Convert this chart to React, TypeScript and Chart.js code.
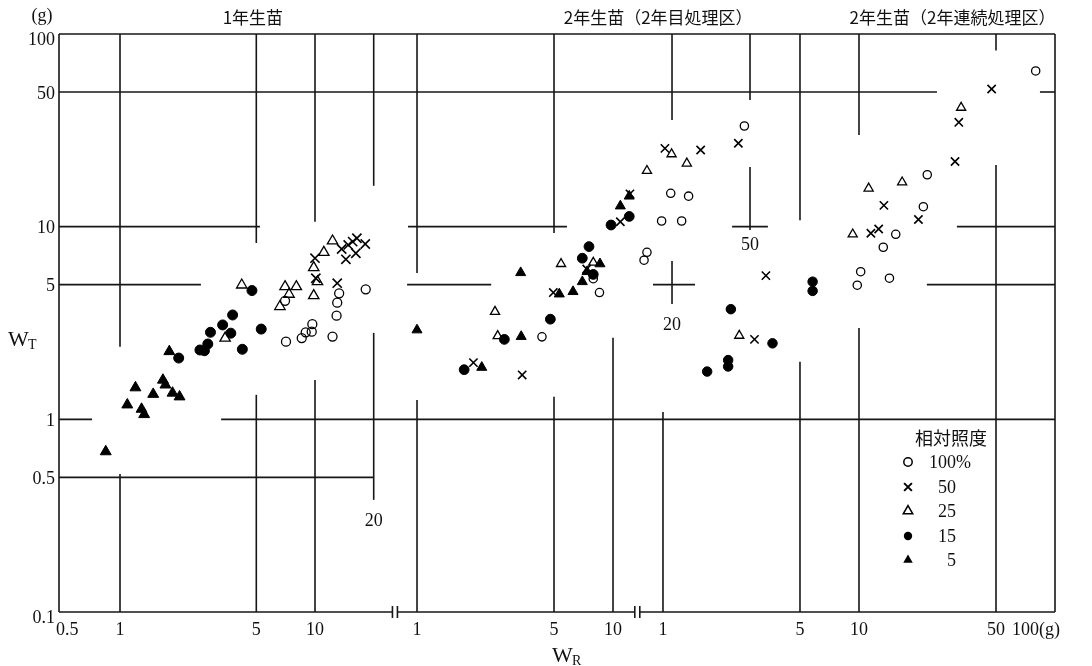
import React, { useEffect, useRef } from 'react';
import { Chart, registerables } from 'chart.js';

Chart.register(...registerables);

type Pt = [number, number];

// ---- data: [W_R (g), W_T (g)] ----
// 1年生苗
const p1_100: Pt[] = [[7.10, 2.53], [8.55, 2.64], [8.96, 2.83], [9.62, 2.85], [9.69, 3.12], [12.3, 2.69], [12.9, 3.45], [13.0, 4.03], [13.3, 4.51], [7.02, 4.12], [18.2, 4.73]];
const p1_50: Pt[] = [[10.0, 6.86], [10.1, 5.40], [13.0, 5.09], [13.7, 7.66], [14.4, 6.77], [14.8, 8.04], [15.6, 8.36], [16.2, 7.28], [16.4, 8.71], [18.1, 8.13]];
const p1_25: Pt[] = [[4.21, 4.98], [3.46, 2.64], [6.61, 3.85], [7.02, 4.88], [7.36, 4.46], [8.02, 4.88], [9.85, 6.13], [9.85, 4.39], [10.3, 5.18], [11.1, 7.36], [12.3, 8.43]];
const p1_15: Pt[] = [[2.0, 2.08], [2.57, 2.29], [2.71, 2.27], [2.82, 2.46], [2.91, 2.83], [3.36, 3.09], [3.70, 2.80], [3.78, 3.48], [4.24, 2.31], [4.75, 4.66], [5.30, 2.94]];
const p1_5: Pt[] = [[0.845, 0.68], [1.09, 1.19], [1.20, 1.46], [1.29, 1.13], [1.33, 1.06], [1.48, 1.35], [1.66, 1.60], [1.71, 1.51], [1.86, 1.37], [2.02, 1.31], [1.79, 2.25]];

// 2年生苗（2年目処理区）
const p2_100: Pt[] = [[4.34, 2.68], [8.53, 4.55], [7.93, 5.37], [14.4, 6.70], [14.9, 7.36], [17.7, 10.7], [22.4, 10.7], [19.7, 14.9], [24.3, 14.4], [46.8, 33.3]];
const p2_50: Pt[] = [[1.94, 1.97], [3.44, 1.70], [4.96, 4.55], [7.34, 6.03], [10.9, 10.6], [12.2, 14.8], [18.4, 25.5], [28.0, 25.0], [43.6, 27.1]];
const p2_25: Pt[] = [[2.50, 3.62], [2.58, 2.71], [5.43, 6.41], [7.93, 6.51], [14.9, 19.5], [19.9, 23.8], [23.8, 21.3]];
const p2_15: Pt[] = [[1.74, 1.81], [2.79, 2.60], [4.79, 3.31], [7.54, 7.88], [6.97, 6.86], [7.93, 5.65], [9.77, 10.2], [12.1, 11.3]];
const p2_5: Pt[] = [[1.0, 2.91], [3.38, 5.77], [2.14, 1.86], [3.40, 2.69], [5.32, 4.47], [6.25, 4.60], [6.97, 5.18], [7.37, 5.84], [8.58, 6.41], [10.9, 12.8], [12.1, 14.4]];

// 2年生苗（2年連続処理区）
const p3_100: Pt[] = [[79.7, 64.3], [22.3, 18.6], [21.3, 12.7], [15.4, 9.13], [13.3, 7.82], [14.3, 5.40], [10.2, 5.84], [9.80, 4.97]];
const p3_50: Pt[] = [[47.5, 51.8], [32.3, 34.8], [30.9, 21.8], [20.1, 10.9], [13.4, 12.9], [12.6, 9.73], [11.5, 9.24], [3.35, 5.57], [2.93, 2.60]];
const p3_25: Pt[] = [[33.2, 41.5], [16.6, 17.0], [11.2, 15.8], [9.29, 9.13], [2.45, 2.72]];
const p3_15: Pt[] = [[5.80, 5.18], [5.80, 4.64], [2.22, 3.73], [3.62, 2.48], [2.15, 2.03], [2.15, 1.88], [1.68, 1.77]];

// ---- labels / ticks ----
const panelTitles = ['1年生苗', '2年生苗（2年目処理区）', '2年生苗（2年連続処理区）'];
const titleAnchors: [string, number][] = [['x1', 4.8], ['x2', 17], ['x3', 30]];
const legendTitle = '相対照度';
const lightLevels = ['100%', '50', '25', '15', '5'];
const xTicks1 = [0.5, 1, 5, 10];
const xTicks2 = [1, 5, 10];
const xTicks3 = [1, 5, 10, 50, 100];
const yTicks = [100, 50, 10, 5, 1, 0.5, 0.1];
// in-plot scale labels: [axis, x, y, text]
const innerLabels: [string, number, number, string][] = [['x1', 20, 0.297, '20'], ['x2', 20, 3.09, '20'], ['x2', 50, 8.04, '50']];

// axis ranges (three log segments sharing the width)
const X1_MIN = 0.4866, X1_MAX = 62350;
const X2_MIN = 0.014908, X2_MAX = 1799;
const X3_MIN = 0.000829, X3_MAX = 100;
const Y_MIN = 0.1, Y_MAX = 100;
const BREAK1 = 25.7; // on x1
const BREAK2 = 13.3; // on x2

// partial grid lines
// vertical: [axis, x, yFrom, yTo]
const vSegments: [string, number, number, number][] = [
  ['x1', 1, 100, 2.38], ['x1', 1, 0.52, 0.1],
  ['x1', 5, 100, 8.23], ['x1', 5, 1.34, 0.1],
  ['x1', 10, 100, 10.6], ['x1', 10, 1.6, 0.1],
  ['x1', 20, 100, 16.3], ['x1', 20, 2.81, 0.382],
  ['x2', 1, 100, 5.75], ['x2', 1, 1.26, 0.1],
  ['x2', 5, 100, 9.28], ['x2', 5, 1.31, 0.1],
  ['x2', 10, 2.65, 0.1],
  ['x2', 20, 100, 35.8], ['x2', 20, 6.64, 3.97],
  ['x2', 50, 100, 45.4], ['x2', 50, 20.4, 9.6],
  ['x3', 1, 1.09, 0.1],
  ['x3', 5, 100, 10.8], ['x3', 5, 1.99, 0.1],
  ['x3', 10, 100, 29.9], ['x3', 10, 2.98, 0.1],
  ['x3', 50, 100, 82], ['x3', 50, 20.9, 0.1],
];
// horizontal: [y, axis, xFrom|null, xTo|null]  (null = plot edge)
const hSegments: [number, string, number | null, number | null][] = [
  [50, 'x3', null, 25.0], [50, 'x3', 83.8, null],
  [10, 'x1', null, 5.22], [10, 'x2', 0.90, 5.82], [10, 'x2', 40.5, 61.7], [10, 'x3', 31.6, null],
  [5, 'x1', null, 2.60], [5, 'x2', 0.89, 2.39], [5, 'x2', 16.0, 26.2], [5, 'x3', 22.2, null],
  [1, 'x1', null, 0.719], [1, 'x1', 3.30, null],
  [0.5, 'x1', null, 20],
];

const LINE = '#161616';
const INK = '#111';
const NUM_FONT = '"Liberation Serif", "DejaVu Serif", serif';
const JP_FONT = '"Noto Sans CJK JP", "Noto Sans", sans-serif';

type Style = { pointStyle: string; radius: number; fill: boolean; bw: number };
const styles: Style[] = [
  { pointStyle: 'circle', radius: 4.5, fill: false, bw: 1.3 },
  { pointStyle: 'crossRot', radius: 6.5, fill: false, bw: 1.6 },
  { pointStyle: 'triangle', radius: 6, fill: false, bw: 1.3 },
  { pointStyle: 'circle', radius: 5, fill: true, bw: 1 },
  { pointStyle: 'triangle', radius: 6.3, fill: true, bw: 1 },
];

function makeSet(label: string, data: Pt[], axis: string, si: number, scale = 1) {
  const s = styles[si];
  return {
    label,
    data: data.map(([x, y]) => ({ x, y })),
    xAxisID: axis,
    yAxisID: 'y',
    pointStyle: s.pointStyle,
    pointRadius: s.radius * scale,
    pointHoverRadius: s.radius * scale,
    pointBorderWidth: s.bw,
    borderColor: '#000',
    pointBorderColor: '#000',
    pointBackgroundColor: s.fill ? '#000' : 'rgba(0,0,0,0)',
    backgroundColor: s.fill ? '#000' : 'rgba(0,0,0,0)',
    showLine: false,
  };
}

function markerPath(ctx: CanvasRenderingContext2D, style: string, x: number, y: number, r: number) {
  ctx.beginPath();
  if (style === 'circle') {
    ctx.arc(x, y, r, 0, Math.PI * 2);
  } else if (style === 'triangle') {
    for (let i = 0; i < 3; i++) {
      const a = (i * 2 * Math.PI) / 3;
      const px = x + Math.sin(a) * r;
      const py = y - Math.cos(a) * r;
      if (i === 0) ctx.moveTo(px, py); else ctx.lineTo(px, py);
    }
    ctx.closePath();
  } else {
    const d = r * Math.SQRT1_2;
    ctx.moveTo(x - d, y - d); ctx.lineTo(x + d, y + d);
    ctx.moveTo(x + d, y - d); ctx.lineTo(x - d, y + d);
  }
}

const decorPlugin = {
  id: 'decor',
  beforeDatasetsDraw(chart: any) {
    const ctx: CanvasRenderingContext2D = chart.ctx;
    const { left, right, top, bottom } = chart.chartArea;
    const ys = chart.scales.y;
    const seg = (x0: number, y0: number, x1: number, y1: number) => {
      ctx.beginPath(); ctx.moveTo(x0, y0); ctx.lineTo(x1, y1); ctx.stroke();
    };
    ctx.save();
    ctx.strokeStyle = LINE;
    ctx.lineWidth = 1.6;
    // frame: left, top, right
    seg(left, top, left, bottom);
    seg(left, top, right, top);
    seg(right, top, right, bottom);
    // bottom with break marks
    const b1 = chart.scales.x1.getPixelForValue(BREAK1);
    const b2 = chart.scales.x2.getPixelForValue(BREAK2);
    seg(left, bottom, b1 - 2.5, bottom);
    seg(b1 + 2.5, bottom, b2 - 2.5, bottom);
    seg(b2 + 2.5, bottom, right, bottom);
    [b1, b2].forEach((b) => {
      seg(b - 2.5, bottom - 6, b - 2.5, bottom + 6);
      seg(b + 2.5, bottom - 6, b + 2.5, bottom + 6);
    });
    // partial grid
    vSegments.forEach(([ax, xv, y0, y1]) => {
      const px = chart.scales[ax].getPixelForValue(xv);
      seg(px, ys.getPixelForValue(y0), px, ys.getPixelForValue(y1));
    });
    hSegments.forEach(([yv, ax, x0, x1]) => {
      const s = chart.scales[ax];
      const a = x0 === null ? left : s.getPixelForValue(x0);
      const b = x1 === null ? right : s.getPixelForValue(x1);
      const py = ys.getPixelForValue(yv);
      seg(a, py, b, py);
    });
    ctx.restore();
  },
  afterDraw(chart: any) {
    const ctx: CanvasRenderingContext2D = chart.ctx;
    const { left, right, bottom } = chart.chartArea;
    const ys = chart.scales.y;
    ctx.save();
    ctx.fillStyle = INK;
    // y tick labels
    ctx.font = `18px ${NUM_FONT}`;
    ctx.textAlign = 'right';
    ctx.textBaseline = 'middle';
    yTicks.forEach((v) => {
      const off = v === Y_MAX || v === Y_MIN ? 6 : 2;
      ctx.fillText(String(v), left - 4, ys.getPixelForValue(v) + off);
    });
    // x tick labels
    const xl = bottom + 18;
    const drawTicks = (ax: string, vals: number[]) => {
      const s = chart.scales[ax];
      vals.forEach((v) => {
        const px = s.getPixelForValue(v);
        if (ax === 'x1' && v === xTicks1[0]) {
          ctx.textAlign = 'left';
          ctx.fillText(String(v), left - 3, xl);
        } else if (ax === 'x3' && v === X3_MAX) {
          ctx.textAlign = 'left';
          ctx.fillText(`${v}(g)`, px - 43, xl);
        } else {
          ctx.textAlign = 'center';
          ctx.fillText(String(v), px, xl);
        }
      });
    };
    drawTicks('x1', xTicks1);
    drawTicks('x2', xTicks2);
    drawTicks('x3', xTicks3);
    // in-plot scale labels
    ctx.textAlign = 'center';
    innerLabels.forEach(([ax, xv, yv, t]) => {
      ctx.fillText(t, chart.scales[ax].getPixelForValue(xv), ys.getPixelForValue(yv));
    });
    // unit
    ctx.fillText('(g)', 42, 16);
    // axis titles
    ctx.textAlign = 'left';
    ctx.font = `22px ${NUM_FONT}`;
    ctx.fillText('W', 8, 340);
    ctx.font = `14px ${NUM_FONT}`;
    ctx.fillText('T', 28, 345);
    ctx.font = `22px ${NUM_FONT}`;
    ctx.fillText('W', 552, 656);
    ctx.font = `14px ${NUM_FONT}`;
    ctx.fillText('R', 572, 661);
    // panel titles
    ctx.font = `17px ${JP_FONT}`;
    ctx.textAlign = 'center';
    panelTitles.forEach((t, i) => {
      const [ax, xv] = titleAnchors[i];
      ctx.fillText(t, chart.scales[ax].getPixelForValue(xv), 18);
    });
    // legend
    const lx = right - 147;
    ctx.font = `18px ${JP_FONT}`;
    ctx.textAlign = 'center';
    ctx.fillText(legendTitle, right - 104, 438);
    const rowY = [462, 487, 511, 536, 560];
    ctx.font = `18px ${NUM_FONT}`;
    lightLevels.forEach((lab, i) => {
      const st = styles[i];
      const y = rowY[i];
      ctx.strokeStyle = '#000';
      ctx.fillStyle = '#000';
      ctx.lineWidth = st.pointStyle === 'crossRot' ? 2 : 1.5;
      const r = st.pointStyle === 'circle' ? 4.2 : 5.5;
      markerPath(ctx, st.pointStyle, lx, y, r);
      if (st.fill) ctx.fill(); else ctx.stroke();
      ctx.fillStyle = INK;
      const num = lab.replace('%', '');
      ctx.textAlign = 'right';
      ctx.fillText(num, right - 99, y + 1);
      if (lab.endsWith('%')) {
        ctx.textAlign = 'left';
        ctx.fillText('%', right - 99, y + 1);
      }
    });
    ctx.restore();
  },
};

export default function App() {
  const ref = useRef<HTMLCanvasElement | null>(null);
  useEffect(() => {
    if (!ref.current) return;
    const datasets = [
      makeSet('1年生苗 100%', p1_100, 'x1', 0),
      makeSet('1年生苗 50', p1_50, 'x1', 1),
      makeSet('1年生苗 25', p1_25, 'x1', 2),
      makeSet('1年生苗 15', p1_15, 'x1', 3),
      makeSet('1年生苗 5', p1_5, 'x1', 4),
      makeSet('2年目処理区 100%', p2_100, 'x2', 0, 0.92),
      makeSet('2年目処理区 50', p2_50, 'x2', 1, 0.9),
      makeSet('2年目処理区 25', p2_25, 'x2', 2, 0.88),
      makeSet('2年目処理区 15', p2_15, 'x2', 3, 0.98),
      makeSet('2年目処理区 5', p2_5, 'x2', 4, 0.92),
      makeSet('2年連続処理区 100%', p3_100, 'x3', 0, 0.92),
      makeSet('2年連続処理区 50', p3_50, 'x3', 1, 0.9),
      makeSet('2年連続処理区 25', p3_25, 'x3', 2, 0.88),
      makeSet('2年連続処理区 15', p3_15, 'x3', 3, 0.95),
    ];
    const logAxis = (min: number, max: number) => ({
      type: 'logarithmic',
      display: false,
      position: 'bottom',
      min,
      max,
      bounds: 'data',
    });
    const chart = new Chart(ref.current, {
      type: 'scatter',
      data: { datasets } as any,
      options: {
        animation: false,
        responsive: true,
        maintainAspectRatio: false,
        events: [],
        layout: { padding: { left: 59, right: 37, top: 34, bottom: 54 } },
        scales: {
          x1: logAxis(X1_MIN, X1_MAX),
          x2: logAxis(X2_MIN, X2_MAX),
          x3: logAxis(X3_MIN, X3_MAX),
          y: { type: 'logarithmic', display: false, position: 'left', min: Y_MIN, max: Y_MAX, bounds: 'data' },
        } as any,
        plugins: {
          legend: { display: false },
          tooltip: { enabled: false },
        },
      },
      plugins: [decorPlugin],
    } as any);
    return () => chart.destroy();
  }, []);
  return (
    <div style={{ position: 'absolute', left: 0, top: 0, width: 1092, height: 666, background: '#fff' }}>
      <canvas ref={ref} />
    </div>
  );
}
